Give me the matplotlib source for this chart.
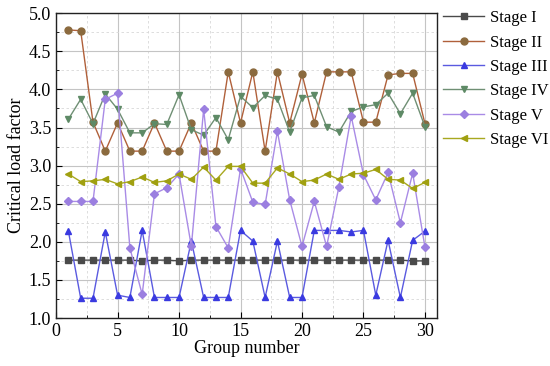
# Critical load factor per group, six stages
import matplotlib.pyplot as plt
from matplotlib.ticker import MultipleLocator

plt.rcParams['font.family'] = ['Liberation Serif', 'DejaVu Serif']

groups = list(range(1, 31))

stage_1 = [1.76, 1.76, 1.76, 1.76, 1.76, 1.76, 1.75, 1.76, 1.76, 1.75,
           1.76, 1.76, 1.76, 1.76, 1.76, 1.76, 1.76, 1.76, 1.76, 1.76,
           1.76, 1.76, 1.76, 1.76, 1.76, 1.76, 1.76, 1.76, 1.75, 1.75]
stage_2 = [4.78, 4.77, 3.57, 3.19, 3.56, 3.19, 3.19, 3.56, 3.19, 3.19,
           3.56, 3.19, 3.19, 4.23, 3.56, 4.23, 3.19, 4.23, 3.56, 4.20,
           3.56, 4.23, 4.23, 4.23, 3.57, 3.57, 4.19, 4.21, 4.21, 3.55]
stage_3 = [2.14, 1.26, 1.26, 2.13, 1.30, 1.27, 2.15, 1.27, 1.27, 1.27,
           2.01, 1.27, 1.27, 1.27, 2.15, 2.01, 1.27, 2.01, 1.27, 1.27,
           2.15, 2.15, 2.15, 2.13, 2.15, 1.30, 2.02, 1.27, 2.02, 2.14]
stage_4 = [3.61, 3.87, 3.55, 3.94, 3.74, 3.43, 3.43, 3.55, 3.54, 3.93,
           3.47, 3.40, 3.63, 3.34, 3.91, 3.76, 3.92, 3.87, 3.44, 3.89,
           3.92, 3.51, 3.44, 3.71, 3.77, 3.80, 3.95, 3.68, 3.95, 3.51]
stage_5 = [2.53, 2.53, 2.53, 3.87, 3.95, 1.92, 1.31, 2.63, 2.71, 2.89,
           1.94, 3.74, 2.20, 1.92, 2.96, 2.52, 2.49, 3.45, 2.55, 1.94,
           2.53, 1.94, 2.72, 3.65, 2.88, 2.55, 2.91, 2.25, 2.90, 1.93]
stage_6 = [2.89, 2.79, 2.80, 2.82, 2.76, 2.79, 2.85, 2.78, 2.80, 2.89,
           2.82, 2.98, 2.81, 2.99, 2.99, 2.77, 2.77, 2.97, 2.89, 2.79,
           2.81, 2.89, 2.82, 2.89, 2.90, 2.95, 2.82, 2.81, 2.70, 2.78]

series = [
    ("Stage I", stage_1, 's', '#4a4a4a', '#4a4a4a'),
    ("Stage II", stage_2, 'o', '#8b6a3e', '#b0603a'),
    ("Stage III", stage_3, '^', '#3a3ae0', '#5a5ae0'),
    ("Stage IV", stage_4, 'v', '#5e8a66', '#6f8f74'),
    ("Stage V", stage_5, 'D', '#9b7fe0', '#a98be6'),
    ("Stage VI", stage_6, '<', '#a0a010', '#a8a820'),
]

fig = plt.figure(figsize=(5.5, 3.66), dpi=100)
ax = fig.add_axes([0.102, 0.131, 0.693, 0.833])

for name, vals, mk, mcol, lcol in series:
    ms = 4.2 if mk == 'D' else 5
    ax.plot(groups, vals, color=lcol, lw=1.0, marker=mk, markersize=ms,
            markerfacecolor=mcol, markeredgecolor=mcol, label=name, zorder=3)

ax.set_xlim(0, 31)
ax.set_ylim(1.0, 5.0)
ax.xaxis.set_major_locator(MultipleLocator(5))
ax.xaxis.set_minor_locator(MultipleLocator(2.5))
ax.yaxis.set_major_locator(MultipleLocator(0.5))
ax.yaxis.set_minor_locator(MultipleLocator(0.25))
ax.yaxis.set_major_formatter(plt.FormatStrFormatter('%.1f'))

ax.grid(which='major', color='#c4c4c4', lw=0.8, ls='-', zorder=0)
ax.grid(which='minor', color='#d8d8d8', lw=0.6, ls=(0, (3, 3)), zorder=0)
ax.tick_params(which='major', direction='in', length=4, width=0.8,
               labelsize=13, top=False, right=False)
ax.tick_params(which='minor', direction='in', length=2.5, width=0.6)
for sp in ax.spines.values():
    sp.set_linewidth(1.0)
    sp.set_color('#222222')

ax.set_xlabel("Group number", fontsize=13, labelpad=0)
ax.set_ylabel("Critical load factor", fontsize=13, labelpad=3)

fig.legend(loc='upper left', bbox_to_anchor=(0.805, 0.972), frameon=False,
           fontsize=12, handlelength=2.5, handletextpad=0.35,
           labelspacing=0.5, borderaxespad=0, borderpad=0)

fig.savefig("out.png", dpi=100)
